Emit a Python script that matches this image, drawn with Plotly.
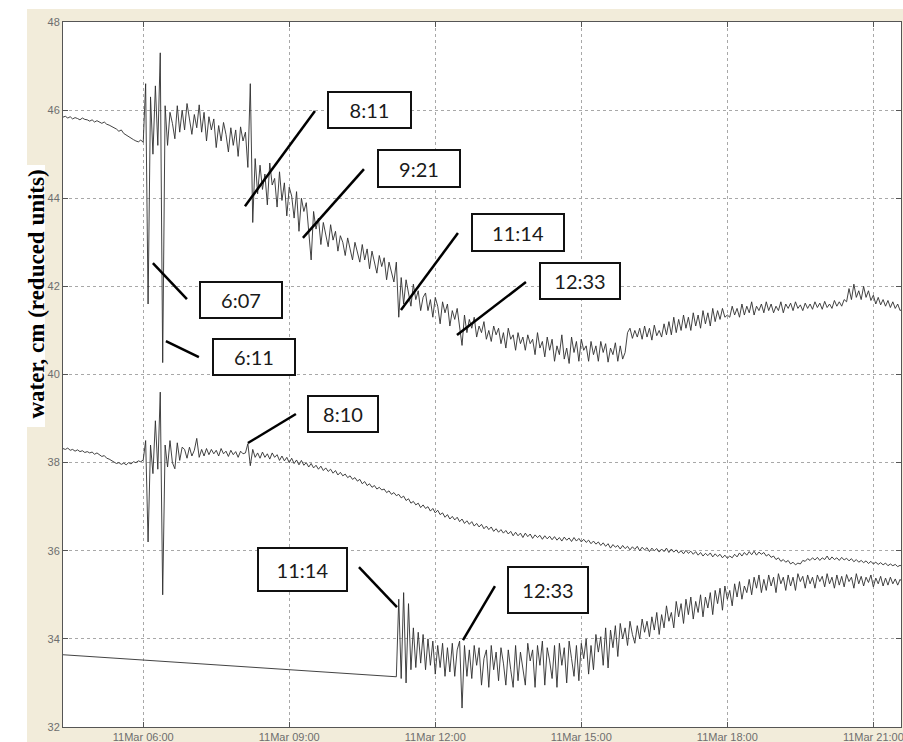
import pandas as pd
import plotly.graph_objects as go

DAY = "2011-03-11"
STEP = "3min"

# ---- upper gauge: 3-minute samples starting 04:21 ----
upper_start = "04:21"
upper_vals = [
    45.84, 45.86, 45.82, 45.85, 45.80, 45.83, 45.81, 45.78, 45.82, 45.79,
    45.78, 45.75, 45.78, 45.73, 45.76, 45.72, 45.70, 45.73, 45.68, 45.66,
    45.63, 45.60, 45.57, 45.52, 45.55, 45.47, 45.43, 45.40, 45.36, 45.33,
    45.30, 45.28, 45.32, 45.27, 46.60, 41.60, 46.30, 45.00, 46.55, 45.20,
    47.30, 40.27, 46.10, 45.20, 45.95, 45.70, 45.35, 46.10, 45.50, 46.00,
    45.55, 46.15, 45.80, 45.45, 45.90, 45.60, 46.12, 45.50, 45.95, 45.30,
    45.85, 45.55, 45.80, 45.15, 45.65, 45.30, 45.72, 45.45, 45.05, 45.60,
    45.20, 45.55, 44.95, 45.62, 45.30, 45.50, 44.70, 46.60, 43.45, 44.90,
    44.10, 44.75, 44.20, 44.55, 43.85, 44.80, 44.30, 44.45, 43.80, 44.60,
    43.95, 44.35, 43.60, 44.25, 44.05, 43.55, 44.15, 43.25, 44.00, 43.70,
    43.90, 43.15, 42.60, 43.70, 43.30, 43.55, 42.95, 43.45, 43.20, 42.90,
    43.40, 43.05, 43.25, 42.80, 43.15, 43.00, 42.70, 43.10, 42.85, 42.60,
    43.00, 42.75, 42.55, 42.95, 42.60, 42.85, 42.40, 42.80, 42.55, 42.30,
    42.70, 42.45, 42.65, 42.15, 42.55, 42.35, 42.10, 42.55, 41.30, 42.20,
    41.60, 42.15, 41.85, 41.55, 42.05, 41.70, 41.90, 41.45, 41.75, 41.85,
    41.45, 41.70, 41.30, 41.75, 41.55, 41.15, 41.65, 41.40, 41.60, 41.10,
    41.45, 41.25, 41.50, 41.05, 40.66, 41.35, 40.95, 41.25, 41.05, 41.30,
    40.85, 41.10, 40.95, 41.20, 40.80, 41.00, 40.75, 41.10, 40.90, 41.05,
    40.70, 40.95, 40.60, 41.05, 40.80, 40.90, 40.55, 40.95, 40.70, 40.85,
    40.55, 40.90, 40.70, 40.80, 40.45, 40.95, 40.60, 40.75, 40.40, 40.85,
    40.55, 40.80, 40.30, 40.65, 40.45, 40.90, 40.35, 40.60, 40.25, 40.85,
    40.50, 40.75, 40.30, 40.80, 40.55, 40.65, 40.30, 40.75, 40.45, 40.65,
    40.30, 40.75, 40.50, 40.70, 40.28, 40.60, 40.45, 40.72, 40.30, 40.65,
    40.35, 40.50, 40.95, 41.05, 40.82, 41.00, 40.85, 41.05, 40.80, 41.10,
    40.85, 41.05, 40.78, 41.12, 40.88, 41.00, 40.85, 41.15, 40.90, 41.20,
    40.90, 41.30, 40.95, 41.25, 41.00, 41.35, 41.05, 41.30, 41.00, 41.40,
    41.10, 41.35, 41.05, 41.45, 41.15, 41.40, 41.10, 41.50, 41.20, 41.45,
    41.25, 41.50, 41.30, 41.35, 41.30, 41.55, 41.35, 41.50, 41.30, 41.60,
    41.35, 41.55, 41.40, 41.65, 41.35, 41.55, 41.45, 41.60, 41.40, 41.65,
    41.45, 41.60, 41.40, 41.55, 41.45, 41.65, 41.40, 41.60, 41.50, 41.62,
    41.45, 41.65, 41.50, 41.58, 41.45, 41.62, 41.50, 41.60, 41.48, 41.65,
    41.52, 41.62, 41.48, 41.66, 41.52, 41.60, 41.50, 41.68, 41.55, 41.65,
    41.55, 41.70, 41.65, 41.95, 41.70, 42.05, 41.75, 41.90, 41.70, 42.00,
    41.75, 41.90, 41.68, 41.80, 41.60, 41.75, 41.58, 41.70, 41.55, 41.68,
    41.52, 41.65, 41.50, 41.60, 41.45, 41.50,
]

# ---- middle gauge: 3-minute samples starting 04:21 ----
middle_start = "04:21"
middle_vals = [
    38.32, 38.30, 38.33, 38.28, 38.30, 38.26, 38.29, 38.25, 38.27, 38.23,
    38.25, 38.22, 38.24, 38.19, 38.22, 38.17, 38.14, 38.16, 38.10, 38.08,
    38.05, 38.02, 37.98, 38.00, 37.96, 37.99, 37.95, 38.00, 37.97, 38.02,
    38.00, 38.04, 38.02, 38.06, 38.50, 36.20, 38.40, 37.75, 38.95, 37.85,
    39.60, 35.00, 38.40, 37.90, 38.50, 38.00, 37.86, 38.45, 38.05, 38.35,
    38.30, 38.10, 38.35, 38.15, 38.28, 38.55, 38.12, 38.30, 38.15, 38.32,
    38.18, 38.30, 38.20, 38.28, 38.15, 38.32, 38.20, 38.26, 38.14, 38.28,
    38.18, 38.25, 38.12, 38.26, 38.20, 38.22, 38.43, 37.93, 38.30, 38.12,
    38.22, 38.10, 38.24, 38.12, 38.20, 38.08, 38.22, 38.12, 38.18, 38.05,
    38.15, 38.04, 38.12, 38.00, 38.10, 37.98, 38.06, 37.95, 38.05, 37.94,
    38.00, 37.90, 37.98, 37.88, 37.94, 37.85, 37.92, 37.82, 37.88, 37.80,
    37.85, 37.76, 37.82, 37.72, 37.78, 37.70, 37.74, 37.66, 37.70, 37.62,
    37.66, 37.58, 37.62, 37.52, 37.57, 37.48, 37.52, 37.44, 37.48, 37.40,
    37.44, 37.38, 37.40, 37.32, 37.36, 37.28, 37.32, 37.25, 37.28, 37.20,
    37.24, 37.14, 37.18, 37.08, 37.12, 37.04, 37.08, 36.98, 37.04, 36.96,
    37.00, 36.90, 36.96, 36.86, 36.92, 36.82, 36.86, 36.76, 36.82, 36.72,
    36.78, 36.70, 36.76, 36.66, 36.72, 36.62, 36.68, 36.60, 36.66, 36.56,
    36.62, 36.54, 36.60, 36.50, 36.56, 36.48, 36.54, 36.44, 36.50, 36.42,
    36.48, 36.40, 36.46, 36.38, 36.44, 36.34, 36.42, 36.34, 36.40, 36.30,
    36.40, 36.32, 36.38, 36.28, 36.36, 36.30, 36.35, 36.26, 36.34, 36.27,
    36.33, 36.25, 36.32, 36.24, 36.30, 36.22, 36.31, 36.24, 36.29, 36.21,
    36.30, 36.22, 36.28, 36.20, 36.26, 36.19, 36.24, 36.16, 36.22, 36.15,
    36.20, 36.12, 36.18, 36.10, 36.16, 36.06, 36.14, 36.08, 36.12, 36.04,
    36.12, 36.05, 36.10, 36.02, 36.09, 36.03, 36.10, 36.00, 36.08, 36.02,
    36.07, 35.98, 36.06, 36.00, 36.05, 35.97, 36.04, 35.98, 36.06, 35.96,
    36.04, 35.97, 36.02, 35.95, 36.00, 35.93, 36.01, 35.94, 35.99, 35.92,
    35.98, 35.90, 35.96, 35.88, 35.94, 35.89, 35.95, 35.86, 35.93, 35.87,
    35.92, 35.84, 35.90, 35.83, 35.88, 35.84, 35.92, 35.86, 35.95, 35.88,
    35.96, 35.90, 35.98, 35.91, 35.99, 35.90, 35.97, 35.92, 35.96, 35.88,
    35.92, 35.85, 35.88, 35.80, 35.84, 35.76, 35.80, 35.74, 35.78, 35.70,
    35.74, 35.68, 35.72, 35.70, 35.78, 35.76, 35.82, 35.78, 35.84, 35.79,
    35.85, 35.78, 35.84, 35.80, 35.88, 35.79, 35.86, 35.80, 35.84, 35.78,
    35.85, 35.79, 35.83, 35.77, 35.82, 35.75, 35.80, 35.74, 35.78, 35.73,
    35.77, 35.71, 35.76, 35.70, 35.74, 35.69, 35.73, 35.68, 35.72, 35.66,
    35.70, 35.66, 35.69, 35.64, 35.67, 35.63,
]

# ---- lower gauge: gap bridged by a straight segment, then 3-minute samples ----
lower_gap_times = ["04:21", "11:12"]
lower_gap_vals = [33.64, 33.14]
lower_start = "11:15"
lower_vals = [
    34.90, 33.10, 35.05, 33.00, 34.80, 33.30, 34.25, 33.35, 34.15, 33.45,
    34.10, 33.30, 34.00, 33.40, 33.95, 33.20, 33.85, 33.35, 33.90, 33.15,
    33.80, 33.25, 33.90, 33.15, 33.75, 33.95, 32.43, 33.85, 33.15, 33.75,
    33.10, 33.85, 33.40, 33.80, 32.95, 33.55, 33.75, 32.90, 33.85, 33.30,
    33.70, 33.05, 33.80, 33.45, 32.95, 33.75, 33.30, 32.90, 33.85, 33.05,
    33.70, 33.35, 32.95, 33.90, 33.50, 33.75, 32.90, 33.85, 33.40, 33.95,
    32.95, 33.80, 33.50, 33.10, 33.85, 32.90, 33.90, 33.40, 33.80, 33.00,
    33.95, 33.55, 33.15, 33.85, 33.05, 33.90, 33.55, 34.00, 33.20, 33.85,
    33.30, 34.10, 33.70, 34.05, 33.40, 34.25, 33.34, 34.20, 33.80, 34.30,
    33.60, 34.35, 34.00, 34.25, 33.85, 34.40, 34.10, 33.90, 34.30, 34.00,
    34.45, 34.15, 34.40, 34.05, 34.50, 34.20, 34.60, 34.10, 34.55, 34.25,
    34.75, 34.40, 34.60, 34.25, 34.85, 34.50, 34.80, 34.35, 34.90, 34.55,
    34.95, 34.45, 34.85, 34.60, 35.00, 34.50, 34.95, 34.70, 35.05, 34.55,
    35.10, 34.80, 35.15, 34.65, 35.20, 34.90, 35.10, 34.75, 35.25, 34.95,
    35.30, 34.90, 35.20, 35.05, 35.35, 35.00, 35.40, 35.15, 35.45, 35.05,
    35.35, 35.10, 35.45, 35.20, 35.40, 35.05, 35.48, 35.25, 35.40, 35.10,
    35.45, 35.20, 35.40, 35.10, 35.48, 35.30, 35.42, 35.15, 35.45, 35.25,
    35.40, 35.15, 35.45, 35.30, 35.42, 35.18, 35.48, 35.25, 35.40, 35.15,
    35.45, 35.22, 35.42, 35.18, 35.46, 35.30, 35.40, 35.15, 35.48, 35.25,
    35.42, 35.20, 35.40, 35.28, 35.45, 35.18, 35.38, 35.25, 35.42, 35.20,
    35.38, 35.22, 35.40, 35.25, 35.36, 35.22, 35.35, 35.28,
]

# ---- axes ----
x_range_hours = [4.352, 21.568]
x_tick_hours = [6, 9, 12, 15, 18, 21]
x_tick_text = ["11Mar 06:00", "11Mar 09:00", "11Mar 12:00",
               "11Mar 15:00", "11Mar 18:00", "11Mar 21:00"]
y_ticks = [32, 34, 36, 38, 40, 42, 44, 46, 48]
y_title = "water, cm (reduced units)"

# ---- event call-outs: text, box centre (hour, level), box size (px),
#      leader line from (hour, level) to (hour, level) ----
event_labels = ["8:11", "9:21", "11:14", "12:33", "6:07", "6:11", "8:10", "11:14", "12:33"]
event_boxes = [(10.648, 46.00), (11.665, 44.675), (13.699, 43.222), (14.973, 42.122),
               (8.007, 41.69), (8.275, 40.397), (10.113, 39.103), (9.271, 35.574),
               (14.315, 35.108)]
event_box_sizes = [(85, 38), (84, 39), (94, 39), (82, 38), (84, 38), (84, 38),
                   (72, 38), (91, 45), (82, 48)]
event_leaders = [((8.090, 43.82), (9.528, 45.98)),
                 ((9.281, 43.10), (10.535, 44.66)),
                 ((11.295, 41.463), (12.466, 43.211)),
                 ((12.446, 40.896), (13.863, 42.099)),
                 ((6.199, 42.53), (6.898, 41.713)),
                 ((6.466, 40.76), (7.144, 40.397)),
                 ((8.151, 38.445), (9.137, 39.103)),
                 ((10.432, 35.63), (11.213, 34.723)),
                 ((12.569, 33.973), (13.226, 35.199))]

# figure geometry (px)
W, H = 903, 742
ML, MR, MT, MB = 63, 2, 22, 15
BEIGE = "#F2ECDA"


def at(hours):
    return pd.Timestamp(DAY) + pd.Timedelta(hours=hours)


def clock(hhmm):
    return pd.Timestamp(f"{DAY} {hhmm}")


def grid(start, n):
    return pd.date_range(clock(start), periods=n, freq=STEP)


def paper_x(px):
    return (px - ML) / (W - ML - MR)


def paper_y(py):
    return (H - MB - py) / (H - MT - MB)


line_style = dict(color="#2e2e2e", width=0.9)

fig = go.Figure()
fig.add_trace(go.Scatter(x=grid(upper_start, len(upper_vals)), y=upper_vals,
                         mode="lines", line=line_style, showlegend=False))
fig.add_trace(go.Scatter(x=grid(middle_start, len(middle_vals)), y=middle_vals,
                         mode="lines", line=line_style, showlegend=False))
lower_x = [clock(t) for t in lower_gap_times] + list(grid(lower_start, len(lower_vals)))
fig.add_trace(go.Scatter(x=lower_x, y=lower_gap_vals + lower_vals,
                         mode="lines", line=line_style, showlegend=False))

shapes = [
    # white margins around the beige frame
    dict(type="rect", xref="paper", yref="paper", layer="below",
         x0=paper_x(0), x1=paper_x(W), y0=paper_y(9), y1=paper_y(0),
         fillcolor="white", line_width=0),
    dict(type="rect", xref="paper", yref="paper", layer="below",
         x0=paper_x(0), x1=paper_x(27), y0=paper_y(H), y1=paper_y(0),
         fillcolor="white", line_width=0),
    # white panel behind the axis title
    dict(type="rect", xref="paper", yref="paper", layer="below",
         x0=paper_x(0), x1=paper_x(45), y0=paper_y(427), y1=paper_y(165),
         fillcolor="white", line_width=0),
]
for (p0, p1) in event_leaders:
    shapes.append(dict(type="line", xref="x", yref="y",
                       x0=at(p0[0]), y0=p0[1], x1=at(p1[0]), y1=p1[1],
                       line=dict(color="black", width=2.5)))

annotations = []
for text, (bh, bv), (bw, bhgt) in zip(event_labels, event_boxes, event_box_sizes):
    annotations.append(dict(
        x=at(bh), y=bv, xref="x", yref="y", text=text, showarrow=False,
        font=dict(family="Lato", size=20, color="#1a1a1a"),
        bgcolor="white", bordercolor="#111", borderwidth=2, borderpad=1,
        width=bw - 6, height=bhgt - 6, align="center", valign="middle"))

annotations.append(dict(
    x=paper_x(21), y=paper_y(294), xref="paper", yref="paper",
    text=f"<b>{y_title}</b>", textangle=-90, showarrow=False,
    font=dict(family="Liberation Serif", size=23, color="black")))

axis_common = dict(
    showline=True, linecolor="#555", linewidth=1, mirror="ticks",
    ticks="inside", ticklen=5, tickcolor="#555",
    showgrid=True, gridcolor="#a8a8a8", gridwidth=1, griddash="dot",
    zeroline=False, automargin=False, ticklabeloverflow="allow",
    tickfont=dict(family="Liberation Sans", size=11, color="#6e6e6e"),
)

fig.update_layout(
    width=W, height=H,
    margin=dict(l=ML, r=MR, t=MT, b=MB),
    paper_bgcolor=BEIGE, plot_bgcolor="white",
    shapes=shapes, annotations=annotations,
    xaxis=dict(range=[at(x_range_hours[0]), at(x_range_hours[1])],
               tickmode="array", tickvals=[at(h) for h in x_tick_hours],
               ticktext=x_tick_text, **axis_common),
    yaxis=dict(range=[y_ticks[0], y_ticks[-1]], tickmode="array",
               tickvals=y_ticks, ticktext=[str(v) for v in y_ticks],
               **axis_common),
)

fig.write_html("out.html")
